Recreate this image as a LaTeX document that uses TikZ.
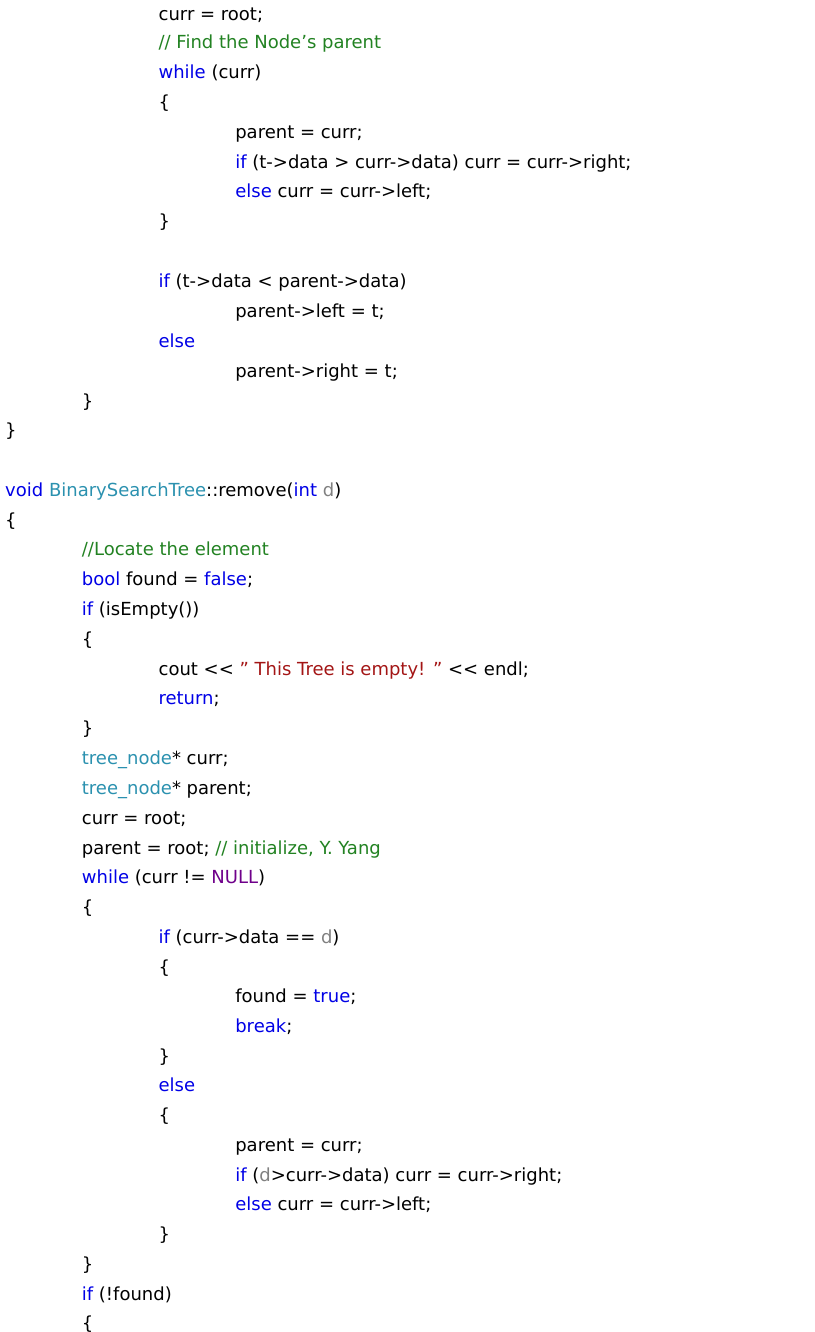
\documentclass[tikz,border=0pt]{standalone}
\usepackage{fontspec}
\setmainfont{DejaVu Sans}
\definecolor{kwc}{RGB}{0,0,230}
\definecolor{cmc}{RGB}{34,130,34}
\definecolor{tyc}{RGB}{43,145,175}
\definecolor{stc}{RGB}{163,21,21}
\definecolor{nlc}{RGB}{111,0,138}
\definecolor{dgc}{RGB}{128,128,128}
\newcommand\kw[1]{\textcolor{kwc}{#1}}
\newcommand\cm[1]{\textcolor{cmc}{#1}}
\newcommand\ty[1]{\textcolor{tyc}{#1}}
\newcommand\stx[1]{\textcolor{stc}{#1}}
\newcommand\nl[1]{\textcolor{nlc}{#1}}
\newcommand\dg[1]{\textcolor{dgc}{#1}}
\newcommand\myqq{\symbol{34}}
\newcommand\myll{<\kern0pt<}
\begin{document}
\begin{tikzpicture}[x=1pt,y=-1pt,
  code/.style={anchor=base west,inner sep=0pt,font=\fontsize{18}{22}\selectfont}]
\useasboundingbox (0,0) rectangle (814,1332);
\def\LL#1#2#3{\node[code] (n#3) at ({5+76.7*#1},{#3}) {#2};}
\LL{2}{curr = root;}{21}
\LL{2}{\cm{// Find the Node\symbol{39}s parent}}{49}
\LL{2}{\kw{while} (curr)}{79}
\LL{2}{\{}{109}
\LL{3}{parent = curr;}{139}
\LL{3}{\kw{if} (t->data > curr->data) curr = curr->right;}{169}
\LL{3}{\kw{else} curr = curr->left;}{198}
\LL{2}{\}}{228}
\LL{2}{\kw{if} (t->data < parent->data)}{287}
\LL{3}{parent->left = t;}{317}
\LL{2}{\kw{else}}{347}
\LL{3}{parent->right = t;}{377}
\LL{1}{\}}{407}
\LL{0}{\}}{436}
\LL{0}{\kw{void} \ty{BinarySearchTree}::remove(\kw{int} \dg{d})}{496}
\LL{0}{\{}{526}
\LL{1}{\cm{//Locate the element}}{555}
\LL{1}{\kw{bool} found = \kw{false};}{585}
\LL{1}{\kw{if} (isEmpty())}{615}
\LL{1}{\{}{645}
\LL{2}{cout \myll{} \stx{\myqq{} This Tree is empty! \myqq} \myll{} endl;}{675}
\LL{2}{\kw{return};}{704}
\LL{1}{\}}{734}
\LL{1}{\ty{tree\_node}* curr;}{764}
\LL{1}{\ty{tree\_node}* parent;}{794}
\LL{1}{curr = root;}{824}
\LL{1}{parent = root; \cm{// initialize, Y. Yang}}{854}
\LL{1}{\kw{while} (curr != \nl{NULL})}{883}
\LL{1}{\{}{913}
\LL{2}{\kw{if} (curr->data == \dg{d})}{943}
\LL{2}{\{}{973}
\LL{3}{found = \kw{true};}{1002}
\LL{3}{\kw{break};}{1032}
\LL{2}{\}}{1062}
\LL{2}{\kw{else}}{1091}
\LL{2}{\{}{1121}
\LL{3}{parent = curr;}{1151}
\LL{3}{\kw{if} (\dg{d}>curr->data) curr = curr->right;}{1181}
\LL{3}{\kw{else} curr = curr->left;}{1210}
\LL{2}{\}}{1240}
\LL{1}{\}}{1270}
\LL{1}{\kw{if} (!found)}{1300}
\LL{1}{\{}{1329}
\end{tikzpicture}
\end{document}
